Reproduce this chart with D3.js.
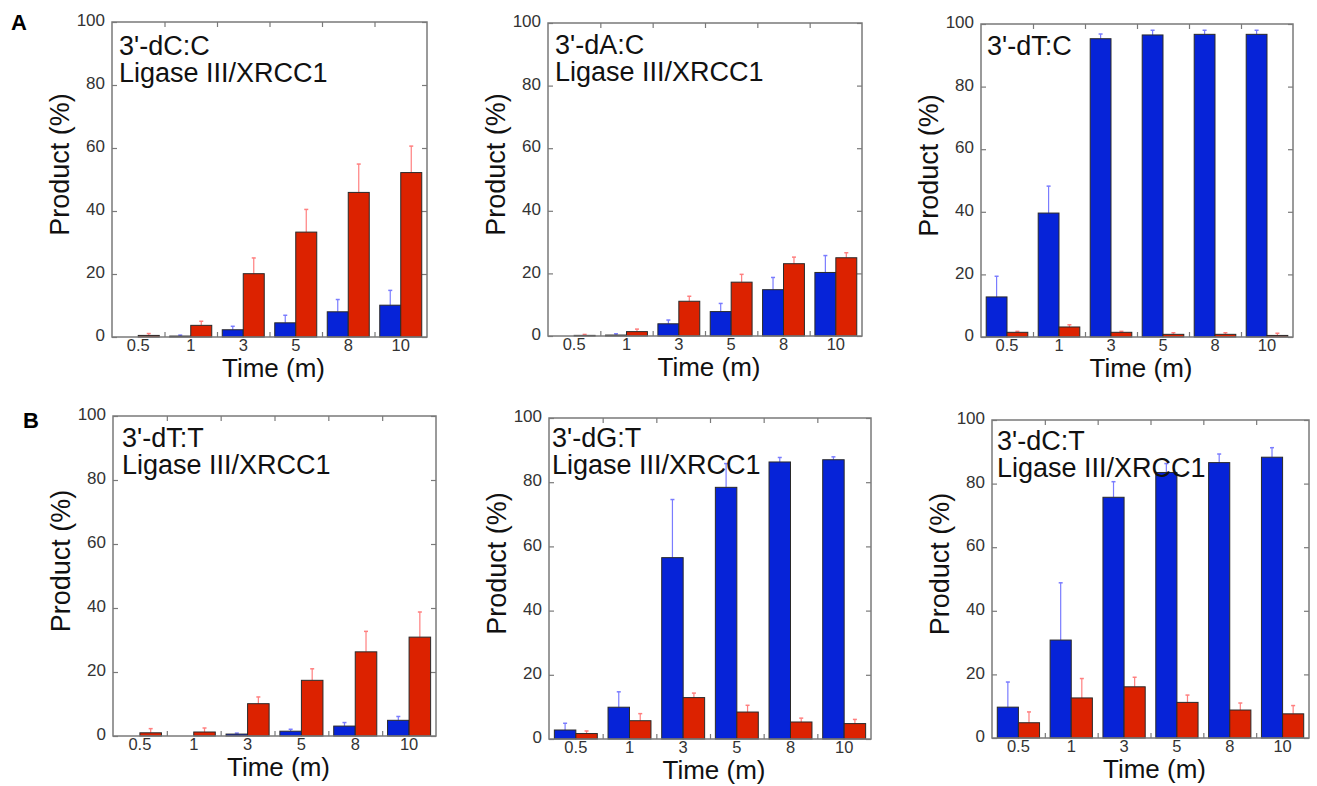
<!DOCTYPE html>
<html><head><meta charset="utf-8">
<script src="https://cdn.jsdelivr.net/npm/d3@7"></script>
<style>
body{margin:0;background:#fff;}
svg{display:block;font-family:"Liberation Sans",Arial,Helvetica,sans-serif;}
</style>
</head><body>
<svg id="chart" width="1317" height="786"></svg>
<script>
// ---------- data ----------
const categories = ["0.5", "1", "3", "5", "8", "10"];
const yTicks = [0, 20, 40, 60, 80, 100];
const seriesNames = ["blue", "red"];

// 3'-dC:C
const dCC_blue    = [0, 0.3, 2.3, 4.5, 8.0, 10.1];
const dCC_blueErr = [0, 0.3, 1.1, 2.4, 3.9, 4.7];
const dCC_red     = [0.5, 3.7, 20.1, 33.3, 45.9, 52.2];
const dCC_redErr  = [0.6, 1.3, 5.0, 7.2, 9.0, 8.4];
// 3'-dA:C
const dAC_blue    = [0, 0.3, 3.9, 7.8, 14.8, 20.3];
const dAC_blueErr = [0, 0.4, 1.2, 2.6, 3.9, 5.4];
const dAC_red     = [0.2, 1.4, 11.1, 17.2, 23.1, 25.0];
const dAC_redErr  = [0.3, 0.8, 1.6, 2.5, 2.1, 1.6];
// 3'-dT:C
const dTC_blue    = [12.8, 39.6, 95.3, 96.5, 96.7, 96.7];
const dTC_blueErr = [6.6, 8.6, 1.5, 1.5, 1.3, 1.3];
const dTC_red     = [1.5, 3.2, 1.5, 0.85, 0.85, 0.5];
const dTC_redErr  = [0.3, 0.7, 0.3, 0.5, 0.5, 0.7];
// 3'-dT:T
const dTT_blue    = [0, 0, 0.6, 1.5, 3.1, 4.9];
const dTT_blueErr = [0, 0, 0.3, 0.6, 1.1, 1.2];
const dTT_red     = [1.0, 1.25, 10.1, 17.4, 26.3, 30.9];
const dTT_redErr  = [1.3, 1.25, 2.1, 3.6, 6.4, 7.85];
// 3'-dG:T
const dGT_blue    = [2.8, 9.9, 56.5, 78.4, 86.3, 87.0];
const dGT_blueErr = [2.1, 4.8, 18.1, 7.4, 1.4, 0.9];
const dGT_red     = [1.7, 5.7, 12.9, 8.4, 5.3, 4.8];
const dGT_redErr  = [0.8, 2.2, 1.4, 2.1, 1.2, 1.3];
// 3'-dC:T
const dCT_blue    = [9.7, 30.8, 75.7, 83.5, 86.6, 88.3];
const dCT_blueErr = [7.9, 18.0, 4.9, 2.8, 2.7, 3.0];
const dCT_red     = [4.8, 12.6, 16.1, 11.2, 8.8, 7.6];
const dCT_redErr  = [3.4, 6.1, 3.0, 2.3, 2.2, 2.6];

const panelTitles = [
  ["3'-dC:C", "Ligase III/XRCC1"],
  ["3'-dA:C", "Ligase III/XRCC1"],
  ["3'-dT:C"],
  ["3'-dT:T", "Ligase III/XRCC1"],
  ["3'-dG:T", "Ligase III/XRCC1"],
  ["3'-dC:T", "Ligase III/XRCC1"]
];
const panelValues = [
  [dCC_blue, dCC_blueErr, dCC_red, dCC_redErr],
  [dAC_blue, dAC_blueErr, dAC_red, dAC_redErr],
  [dTC_blue, dTC_blueErr, dTC_red, dTC_redErr],
  [dTT_blue, dTT_blueErr, dTT_red, dTT_redErr],
  [dGT_blue, dGT_blueErr, dGT_red, dGT_redErr],
  [dCT_blue, dCT_blueErr, dCT_red, dCT_redErr]
];
const rowLabels = ["A", "B"];
const xTitle = "Time (m)";
const yTitle = "Product (%)";

// ---------- layout & style ----------
const frames = [
  {x: 112, y: 22,  w: 315, h: 315, tx: 7, ty: 33},
  {x: 548, y: 23,  w: 314, h: 313, tx: 7, ty: 31},
  {x: 981, y: 24,  w: 312, h: 313, tx: 6, ty: 31},
  {x: 113, y: 416, w: 323, h: 320, tx: 9, ty: 31},
  {x: 549, y: 418, w: 322, h: 321, tx: 3, ty: 29},
  {x: 992, y: 420, w: 317, h: 318, tx: 5, ty: 30}
];
const BLUE = "#0623d8", RED = "#dc2200";
const BLUE_ERR = "#7a7cff", RED_ERR = "#ff7f7f";
const FRAME = "#7a7a7a";

const svg = d3.select("#chart");

frames.forEach((f, i) => {
  const [bv, be, rv, re] = panelValues[i];
  const g = svg.append("g").attr("transform", `translate(${f.x},${f.y})`);

  const x = d3.scaleBand().domain(categories).range([0, f.w]).paddingInner(0.2).paddingOuter(0.1);
  const xs = d3.scaleBand().domain(seriesNames).range([0, x.bandwidth()]);
  const y = d3.scaleLinear().domain([0, 100]).range([f.h, 0]);
  const xb = d3.scaleLinear().domain([0, categories.length]).range([0, f.w]);
  const bounds = d3.range(1, categories.length);

  // y axes (ticks inward)
  const yl = g.append("g").call(d3.axisLeft(y).tickValues(yTicks).tickSize(-5).tickPadding(7));
  yl.selectAll("text").attr("font-size", 17).attr("fill", "#333").attr("dy", "0.22em");
  g.append("g").attr("transform", `translate(${f.w},0)`)
    .call(d3.axisRight(y).tickValues(yTicks).tickSize(-5).tickFormat(""));
  // x boundary ticks top & bottom
  g.append("g").call(d3.axisTop(xb).tickValues(bounds).tickSize(-5).tickFormat(""));
  g.append("g").attr("transform", `translate(0,${f.h})`)
    .call(d3.axisBottom(xb).tickValues(bounds).tickSize(-5).tickFormat(""));
  // x labels
  const xl = g.append("g").attr("transform", `translate(0,${f.h})`)
    .call(d3.axisBottom(x).tickSize(0).tickPadding(2));
  xl.selectAll("text").attr("font-size", 16.5).attr("fill", "#333");
  g.selectAll(".domain").remove();
  g.selectAll(".tick line").attr("stroke", FRAME).attr("stroke-width", 1.2);

  const rows = categories.map((c, k) => ({c, vals: [
    {s: "blue", v: bv[k], e: be[k], fill: BLUE, ec: BLUE_ERR},
    {s: "red",  v: rv[k], e: re[k], fill: RED,  ec: RED_ERR}
  ]}));

  const grp = g.append("g").selectAll("g").data(rows).join("g")
    .attr("transform", d => `translate(${x(d.c)},0)`);

  // error bars
  grp.selectAll("g.err").data(d => d.vals.filter(v => v.e > 0)).join("g").attr("class", "err")
    .each(function(d) {
      const cx = xs(d.s) + xs.bandwidth() / 2;
      const sel = d3.select(this);
      sel.append("line").attr("x1", cx).attr("x2", cx)
        .attr("y1", y(d.v)).attr("y2", y(d.v + d.e))
        .attr("stroke", d.ec).attr("stroke-width", 1.2);
      sel.append("line").attr("x1", cx - 2).attr("x2", cx + 2)
        .attr("y1", y(d.v + d.e)).attr("y2", y(d.v + d.e))
        .attr("stroke", d.ec).attr("stroke-width", 1.5);
    });

  // bars
  grp.selectAll("rect").data(d => d.vals.filter(v => v.v > 0)).join("rect")
    .attr("x", d => xs(d.s))
    .attr("y", d => y(d.v))
    .attr("width", xs.bandwidth())
    .attr("height", d => y(0) - y(d.v))
    .attr("fill", d => d.fill)
    .attr("stroke", "#2a2a2a").attr("stroke-width", 1);

  // frame
  g.append("rect").attr("width", f.w).attr("height", f.h)
    .attr("fill", "none").attr("stroke", FRAME).attr("stroke-width", 1.5);

  // panel title
  const t = g.append("text").attr("x", f.tx).attr("y", f.ty)
    .attr("font-size", 27).attr("fill", "#111");
  panelTitles[i].forEach((line, k) => {
    t.append("tspan").attr("x", f.tx).attr("dy", k === 0 ? 0 : 27).text(line);
  });

  // axis titles
  g.append("text").attr("x", f.w / 2 + 4).attr("y", f.h + 40)
    .attr("text-anchor", "middle").attr("font-size", 26).attr("fill", "#111").text(xTitle);
  g.append("text").attr("transform", `translate(-43,${f.h / 2 - 15}) rotate(-90)`)
    .attr("text-anchor", "middle").attr("font-size", 27).attr("fill", "#111").text(yTitle);
});

// row labels
svg.append("text").attr("x", 11).attr("y", 30).attr("font-size", 22).attr("font-weight", "bold").text(rowLabels[0]);
svg.append("text").attr("x", 23).attr("y", 428).attr("font-size", 22).attr("font-weight", "bold").text(rowLabels[1]);
</script>
</body></html>
